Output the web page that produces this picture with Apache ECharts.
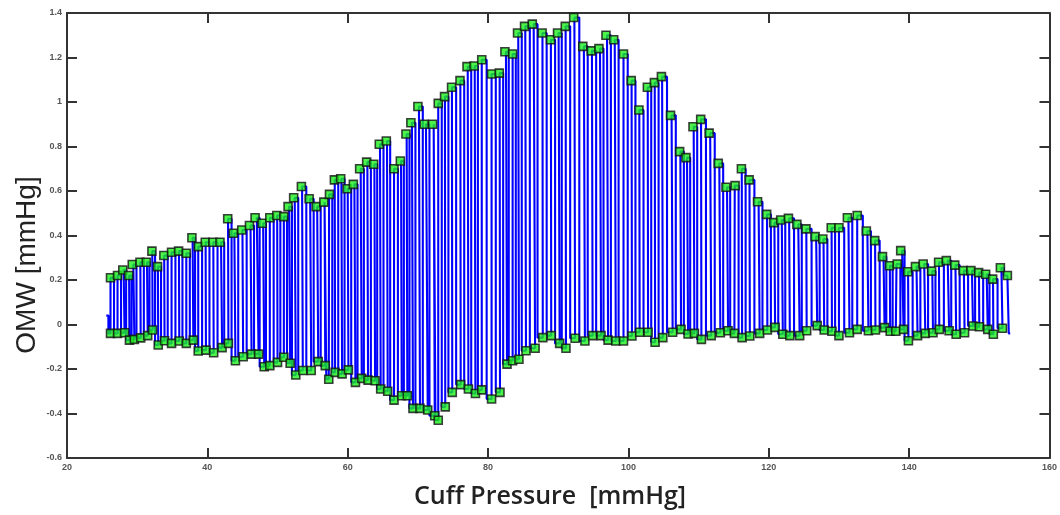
<!DOCTYPE html>
<html>
<head>
<meta charset="utf-8">
<script src="https://cdn.jsdelivr.net/npm/echarts@6/dist/echarts.min.js"></script>
<style>
html,body{margin:0;padding:0;background:#fff;}
#c{width:1060px;height:515px;}
</style>
</head>
<body>
<div id="c"></div>
<script>
// Peak (upper envelope) points: cuff pressure [mmHg] and OMW [mmHg]
const peakX = [26.2,27.2,27.95,28.8,29.3,30.4,31.3,32.1,32.9,33.8,34.9,35.9,37.0,37.8,38.7,39.7,40.8,41.8,42.9,43.7,
  44.9,46.0,46.8,47.8,48.9,49.9,50.9,51.5,52.3,53.4,54.5,55.5,56.6,57.4,58.1,59.0,59.9,60.8,61.7,62.7,
  63.7,64.5,65.5,66.6,67.5,68.3,69.0,70.0,70.9,72.1,72.9,73.8,74.8,76.0,77.0,78.0,79.1,80.5,81.6,82.4,
  83.5,84.2,85.2,86.3,87.7,88.9,89.9,91.0,92.2,93.5,94.7,95.8,96.8,97.9,99.3,100.4,101.5,102.7,103.7,104.7,
  106.0,107.3,108.2,109.2,110.3,111.5,112.8,113.9,115.2,116.1,117.2,118.4,119.7,120.7,121.7,122.8,124.0,125.3,126.6,127.7,
  128.9,130.0,131.2,132.6,133.9,135.1,136.2,137.2,138.3,138.8,139.8,140.9,142.0,143.2,144.2,145.3,146.5,147.7,148.8,149.9,
  150.9,151.9,153.0,154.0];
const peakY = [0.21,0.22,0.245,0.22,0.27,0.28,0.28,0.33,0.26,0.31,0.325,0.33,0.32,0.39,0.35,0.37,0.37,0.37,0.475,0.41,
  0.425,0.445,0.48,0.455,0.48,0.49,0.485,0.53,0.57,0.62,0.565,0.53,0.55,0.585,0.65,0.655,0.61,0.63,0.70,0.73,
  0.72,0.81,0.825,0.70,0.735,0.856,0.907,0.98,0.90,0.90,0.994,1.024,1.066,1.096,1.159,1.162,1.19,1.126,1.13,1.226,
  1.216,1.31,1.34,1.35,1.31,1.28,1.31,1.34,1.38,1.25,1.23,1.24,1.30,1.28,1.216,1.096,0.964,1.066,1.087,1.114,
  0.94,0.777,0.75,0.889,0.922,0.86,0.724,0.617,0.624,0.70,0.65,0.552,0.495,0.458,0.47,0.477,0.45,0.43,0.395,0.384,
  0.435,0.435,0.48,0.49,0.42,0.377,0.305,0.264,0.272,0.332,0.237,0.26,0.272,0.24,0.28,0.287,0.267,0.242,0.242,0.233,
  0.226,0.204,0.255,0.22];
// Trough (lower envelope) points
const troughX = [26.2,27.2,28.2,28.9,29.6,30.5,31.5,32.2,33.0,33.9,34.9,36.0,37.0,38.0,38.7,39.8,40.9,42.1,43.0,44.0,
  45.1,46.3,47.3,48.1,48.9,50.0,50.9,51.8,52.6,53.6,54.8,55.8,56.8,57.3,58.2,59.2,60.1,61.1,62.0,62.9,
  63.9,64.7,65.7,66.6,67.7,68.5,69.3,70.3,71.4,72.4,72.9,73.9,74.9,76.1,77.2,78.2,79.1,80.5,81.7,82.7,
  83.5,84.4,85.4,86.7,87.8,89.0,90.2,91.1,92.4,93.8,94.9,96.1,97.1,98.2,99.3,100.5,101.6,102.8,103.8,104.9,
  106.3,107.5,108.5,109.4,110.4,111.8,113.1,114.2,115.1,116.2,117.3,118.7,119.8,120.9,122.0,123.0,124.4,125.4,126.9,127.9,
  129.0,130.0,131.5,132.6,134.2,135.2,136.5,137.3,138.1,139.2,139.9,141.2,142.3,143.4,144.3,145.7,146.7,147.9,149.1,150.0,
  151.2,152.0,153.3];
const troughY = [-0.04,-0.04,-0.037,-0.07,-0.067,-0.06,-0.05,-0.025,-0.092,-0.073,-0.085,-0.074,-0.085,-0.07,-0.119,-0.115,-0.127,-0.104,-0.085,-0.163,
  -0.145,-0.133,-0.133,-0.19,-0.185,-0.17,-0.147,-0.174,-0.227,-0.207,-0.207,-0.167,-0.185,-0.246,-0.215,-0.222,-0.204,-0.26,-0.242,-0.25,
  -0.253,-0.29,-0.30,-0.34,-0.32,-0.32,-0.377,-0.377,-0.384,-0.41,-0.43,-0.37,-0.305,-0.27,-0.29,-0.31,-0.294,-0.335,-0.305,-0.178,
  -0.163,-0.156,-0.118,-0.107,-0.059,-0.05,-0.085,-0.107,-0.062,-0.074,-0.05,-0.05,-0.07,-0.074,-0.074,-0.052,-0.035,-0.035,-0.08,-0.059,
  -0.035,-0.022,-0.043,-0.04,-0.067,-0.05,-0.037,-0.028,-0.04,-0.059,-0.052,-0.04,-0.025,-0.013,-0.044,-0.05,-0.05,-0.028,-0.005,-0.025,
  -0.03,-0.05,-0.037,-0.022,-0.028,-0.025,-0.014,-0.03,-0.03,-0.022,-0.073,-0.05,-0.04,-0.037,-0.022,-0.028,-0.044,-0.037,-0.007,-0.01,
  -0.022,-0.044,-0.017];
// Start and end of the waveform trace
const waveStart = [25.6, 0.04];
const waveEnd = [154.4, -0.04];
// Axis ticks
const xTicks = {min: 20, max: 160, interval: 20};
const yTicks = {min: -0.6, max: 1.4, interval: 0.2};

const wave = [waveStart];
for (let i = 0; i < peakX.length; i++) {
  if (i < troughX.length) wave.push([troughX[i], troughY[i]]);
  wave.push([peakX[i], peakY[i]]);
}
wave.push(waveEnd);
const peaks = peakX.map((x, i) => [x, peakY[i]]);
const troughs = troughX.map((x, i) => [x, troughY[i]]);

const axisLineStyle = {color: '#333', width: 2};
const lbl = {fontSize: 9, color: '#555', fontWeight: 'bold', fontFamily: 'Liberation Sans'};

const chart = echarts.init(document.getElementById('c'), null, {renderer: 'canvas'});
chart.setOption({
  animation: false,
  backgroundColor: '#fff',
  grid: {left: 67, right: 5, top: 13, bottom: 57, containLabel: false},
  xAxis: [
    {type: 'value', min: xTicks.min, max: xTicks.max, interval: xTicks.interval, position: 'bottom',
     axisLine: {show: true, onZero: false, lineStyle: axisLineStyle},
     axisTick: {show: true, inside: true, length: 10, lineStyle: axisLineStyle},
     axisLabel: Object.assign({margin: 5}, lbl), splitLine: {show: false}},
    {type: 'value', min: xTicks.min, max: xTicks.max, interval: xTicks.interval, position: 'top',
     axisLine: {show: true, onZero: false, lineStyle: axisLineStyle},
     axisTick: {show: true, inside: true, length: 10, lineStyle: axisLineStyle},
     axisLabel: {show: false}, splitLine: {show: false}}
  ],
  yAxis: [
    {type: 'value', min: yTicks.min, max: yTicks.max, interval: yTicks.interval, position: 'left',
     axisLine: {show: true, onZero: false, lineStyle: axisLineStyle},
     axisTick: {show: true, inside: true, length: 10, lineStyle: axisLineStyle},
     axisLabel: Object.assign({margin: 5}, lbl), splitLine: {show: false}},
    {type: 'value', min: yTicks.min, max: yTicks.max, interval: yTicks.interval, position: 'right',
     axisLine: {show: true, onZero: false, lineStyle: axisLineStyle},
     axisTick: {show: true, inside: true, length: 10, lineStyle: axisLineStyle},
     axisLabel: {show: false}, splitLine: {show: false}}
  ],
  graphic: [
    {type: 'text', x: 27, y: 265, rotation: Math.PI / 2,
     style: {text: 'OMW [mmHg]', font: '28px "Liberation Sans"', fill: '#222', textAlign: 'center', textVerticalAlign: 'middle'}},
    {type: 'text', x: 550, y: 497,
     style: {text: 'Cuff Pressure  [mmHg]', font: '600 25px "Open Sans"', fill: '#222', textAlign: 'center', textVerticalAlign: 'middle'}}
  ],
  series: [
    {type: 'line', data: wave, step: 'middle', showSymbol: false, symbol: 'none', xAxisIndex: 0, yAxisIndex: 0,
     lineStyle: {color: '#0000ff', width: 2.1}, z: 2, silent: true},
    {type: 'scatter', data: peaks, symbol: 'rect', symbolSize: 8, xAxisIndex: 0, yAxisIndex: 0,
     itemStyle: {color: '#1ef01e', borderColor: '#111', borderWidth: 1.6}, z: 3},
    {type: 'scatter', data: troughs, symbol: 'rect', symbolSize: 8, xAxisIndex: 0, yAxisIndex: 0,
     itemStyle: {color: '#1ef01e', borderColor: '#111', borderWidth: 1.6}, z: 3}
  ]
});
</script>
</body>
</html>
